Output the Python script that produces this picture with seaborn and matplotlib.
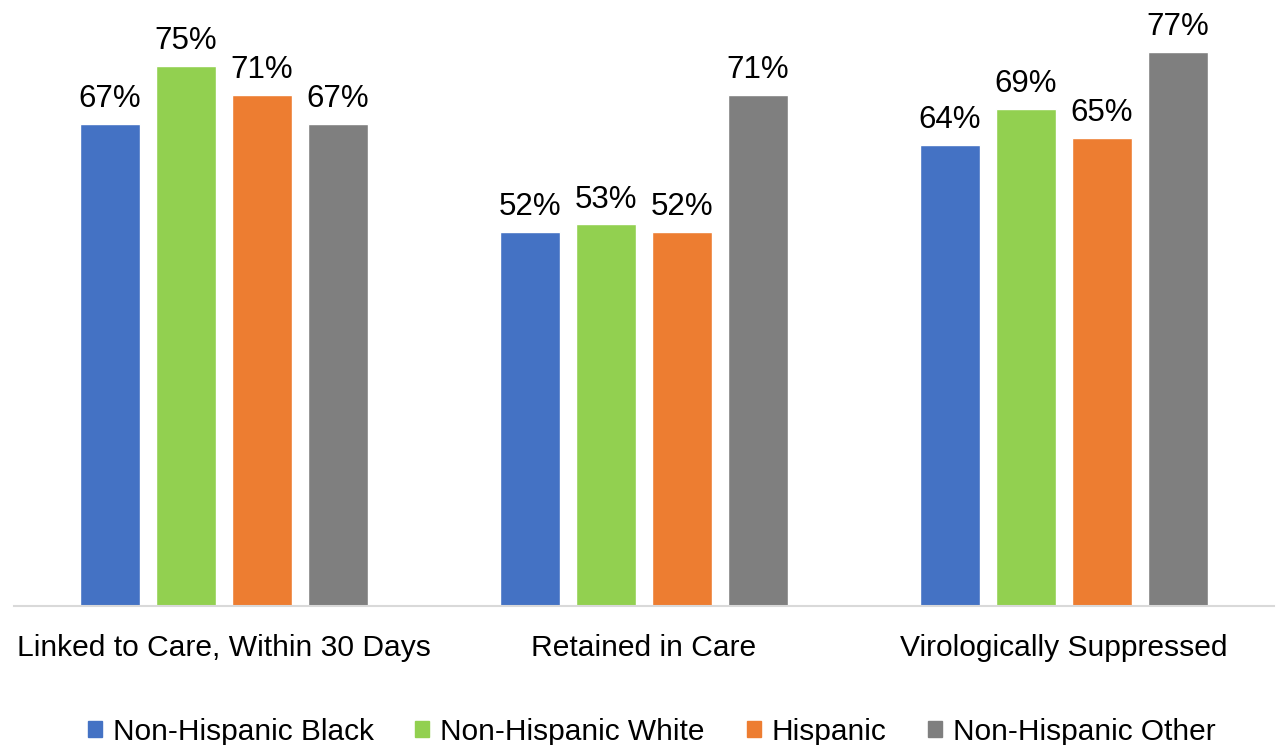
import matplotlib
matplotlib.use("Agg")
import matplotlib.pyplot as plt
from matplotlib import font_manager
import seaborn as sns
import pandas as pd

measures = ["Linked to Care, Within 30 Days", "Retained in Care", "Virologically Suppressed"]
groups = ["Non-Hispanic Black", "Non-Hispanic White", "Hispanic", "Non-Hispanic Other"]
black = [67, 52, 64]
white = [75, 53, 69]
hispanic = [71, 52, 65]
other = [67, 71, 77]
colors = ["#4472C4", "#92D050", "#ED7D31", "#7F7F7F"]

rows = []
for g, vals in zip(groups, [black, white, hispanic, other]):
    for m, v in zip(measures, vals):
        rows.append({"measure": m, "group": g, "pct": v})
df = pd.DataFrame(rows)

sns.set_theme(style="white")
available = {f.name for f in font_manager.fontManager.ttflist}
base_font = "Liberation Sans" if "Liberation Sans" in available else "DejaVu Sans"
plt.rcParams["font.family"] = [base_font, "DejaVu Sans"]
plt.rcParams["text.color"] = "black"

fig = plt.figure(figsize=(12.78, 7.45), dpi=100)
ax = fig.add_axes([14 / 1278, 139 / 745, 1260 / 1278, 604.8 / 745])

sns.barplot(data=df, x="measure", y="pct", hue="group", order=measures,
            hue_order=groups, palette=colors, width=0.724, gap=0.21,
            saturation=1, ax=ax, legend=False)

for cont in ax.containers:
    ax.bar_label(cont, fmt="%d%%", padding=7, fontsize=22.5, color="black")

ax.set_xlim(-0.5, 2.5)
ax.set_ylim(0, 84)
ax.set_xlabel("")
ax.set_ylabel("")
ax.set_yticks([])
for s in ["top", "left", "right"]:
    ax.spines[s].set_visible(False)
ax.spines["bottom"].set_color("#D9D9D9")
ax.spines["bottom"].set_linewidth(1.5)
ax.tick_params(axis="x", length=0, pad=20, labelsize=21.6, labelcolor="black")

handles = [plt.Rectangle((0, 0), 1, 1, color=c) for c in colors]
fig.legend(handles, groups, loc="center", bbox_to_anchor=(0.51, 0.018),
           ncol=4, frameon=False, handlelength=0.47, handleheight=0.47,
           handletextpad=0.37, columnspacing=1.4, labelcolor="black",
           prop={"size": 21.5})

fig.savefig("out.png", dpi=100)
